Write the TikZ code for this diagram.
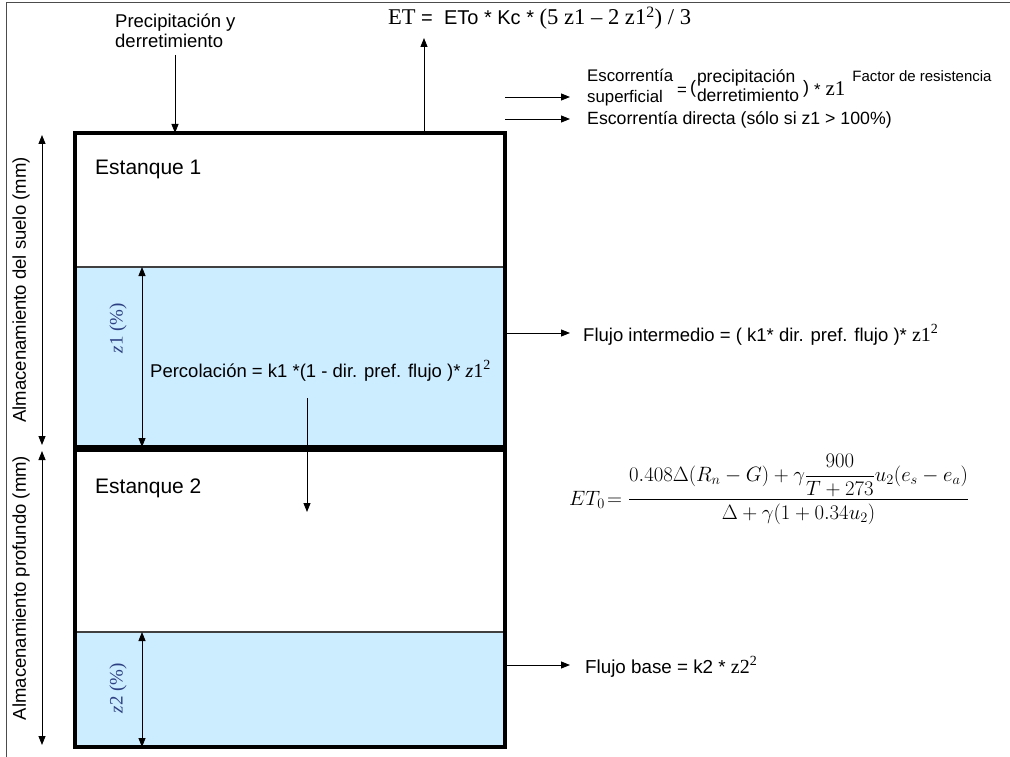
\documentclass[tikz,border=0pt]{standalone}
\usepackage{fontspec}
\usepackage{amsmath}
\setmainfont{Liberation Sans}
\newfontfamily\tms{Liberation Serif}
\usetikzlibrary{arrows.meta}
\definecolor{water}{RGB}{204,236,255}
\definecolor{zblue}{RGB}{45,65,130}
\begin{document}
\begin{tikzpicture}[x=1pt,y=-1pt,
  tank/.style={draw=black, line width=4pt, minimum width=430pt, inner sep=0pt, outer sep=0pt},
  waterbox/.style={fill=water, draw=black!75, line width=1.2pt, minimum width=430pt, inner sep=0pt, outer sep=0pt},
  flow/.style={-{Triangle[length=9pt,width=7pt]}, line width=0.9pt},
  dimarrow/.style={{Triangle[length=9pt,width=7pt]}-{Triangle[length=9pt,width=7pt]}, line width=0.9pt},
  txt/.style={inner sep=0pt, font=\fontsize{18.5}{19.5}\selectfont},
  big/.style={inner sep=0pt, font=\fontsize{21}{24}\selectfont},
  zlab/.style={inner sep=0pt, rotate=90, text=zblue, font=\tms\fontsize{19}{22}\selectfont},
]
\useasboundingbox (0,0) rectangle (1010,757);
% outer frame
\draw[line width=1pt, black!70] (6,757) -- (6,3) -- (1010,3);

% water levels
\node[waterbox, minimum height=180pt] (w1) at (290,357) {};
\node[waterbox, minimum height=115pt] (w2) at (290,689.5) {};
% tanks
\node[tank, minimum height=314pt] (t1) at (290,290) {};
\node[tank, minimum height=297pt] (t2) at (290,598.5) {};

\node[big, anchor=base west] (e1) at (95,175) {Estanque 1};
\node[big, anchor=base west] (e2) at (95,493) {Estanque 2};

% left dimension arrows
\coordinate (dx) at (42,0);
\draw[dimarrow] ([yshift=-2pt]t1.north -| dx) -- ([yshift=2pt]t1.south -| dx);
\draw[dimarrow] ([yshift=-1pt]t2.north -| dx) -- ([yshift=2pt]t2.south -| dx);
\node[txt, rotate=90] (l1) at (21,290) {Almacenamiento del suelo (mm)};
\node[txt, rotate=90] (l2) at (21,588) {Almacenamiento profundo (mm)};

% z1, z2 arrows
\coordinate (zx) at (142,0);
\draw[dimarrow] (w1.north -| zx) -- (t1.south -| zx);
\draw[dimarrow] (w2.north -| zx) -- (t2.south -| zx);
\node[zlab] (z1l) at (118,328) {\textit{z}1 (\%)};
\node[zlab] (z2l) at (118,688) {\textit{z}2 (\%)};

% percolation
\node[txt, anchor=base west] (perc) at (150,377) {Percolación = k1 *(1 - dir. pref. flujo )* {\tms\fontsize{20}{22}\selectfont\textit{z}1\textsuperscript{2}}};
\coordinate (pc1) at (307,398);
\coordinate (pc2) at (307,512);
\draw[flow] (pc1) -- (pc2);

% precipitation
\node[txt, anchor=north west, align=left] (prec) at (115,14) {Precipitación y\\derretimiento};
\coordinate (pr) at (175,55);
\draw[flow] (pr) -- (pr |- t1.north);

% ET
\node[inner sep=0pt, anchor=base west] (et) at (388,25) {{\tms\fontsize{22.5}{24}\selectfont ET}{\fontsize{20}{22}\selectfont{} =\ \ ETo * Kc * }{\tms\fontsize{22.6}{24}\selectfont (5 z1 – 2 z1\textsuperscript{2}) / 3}};
\coordinate (etc) at (424,38);
\draw[flow] (etc |- t1.north) -- (etc);

% runoff
\coordinate (r1) at (570,97);
\coordinate (r2) at (570,119);
\draw[flow] (r1 -| t1.east) -- (r1);
\draw[flow] (r2 -| t1.east) -- (r2);
\node[inner sep=0pt, font=\fontsize{16.8}{20}\selectfont, anchor=base west] (esc) at (587,96) {\makebox[90pt][l]{\rlap{\raisebox{14pt}{Escorrentía}}\raisebox{-7pt}{superficial}}=\hspace{3pt}{\fontsize{18}{20}\selectfont\raisebox{2pt}{(}}\hspace{1pt}{\fontsize{17.5}{20}\selectfont\makebox[106pt][l]{\rlap{\raisebox{13pt}{precipitación}}\raisebox{-6pt}{derretimiento}}}{\fontsize{18}{20}\selectfont\raisebox{2pt}{)}}\hspace{5pt}*\hspace{5pt}{\tms\fontsize{21}{22}\selectfont z1}\hspace{7pt}\raisebox{14pt}{\fontsize{15}{16}\selectfont Factor de resistencia}};
\node[inner sep=0pt, font=\fontsize{17.7}{20}\selectfont, anchor=base west] (dir) at (587,125) {Escorrentía directa (sólo si z1 > 100\%)};

% intermediate flow
\coordinate (fi) at (570,333);
\draw[flow] (fi -| t1.east) -- (fi);
\node[inner sep=0pt, font=\fontsize{18.5}{22}\selectfont, anchor=base west] (fit) at (583,341) {Flujo intermedio = ( k1* dir. pref. flujo )* {\tms\fontsize{20}{22}\selectfont z1\textsuperscript{2}}};

% base flow
\coordinate (fb) at (570,665);
\draw[flow] (fb -| t2.east) -- (fb);
\node[inner sep=0pt, font=\fontsize{18.8}{22}\selectfont, anchor=base west] (fbt) at (585,673) {Flujo base = k2 * {\tms\fontsize{20}{22}\selectfont z2\textsuperscript{2}}};

% ET0 formula
\node[inner sep=0pt, font=\fontsize{19.3}{24}\selectfont, anchor=base west] (et0) at (569,505) {$\displaystyle ET_0\!=\frac{0.408\Delta(R_n-G)+\gamma\dfrac{900}{T+273}u_2(e_s-e_a)}{\Delta+\gamma(1+0.34u_2)}$};
\end{tikzpicture}
\end{document}
